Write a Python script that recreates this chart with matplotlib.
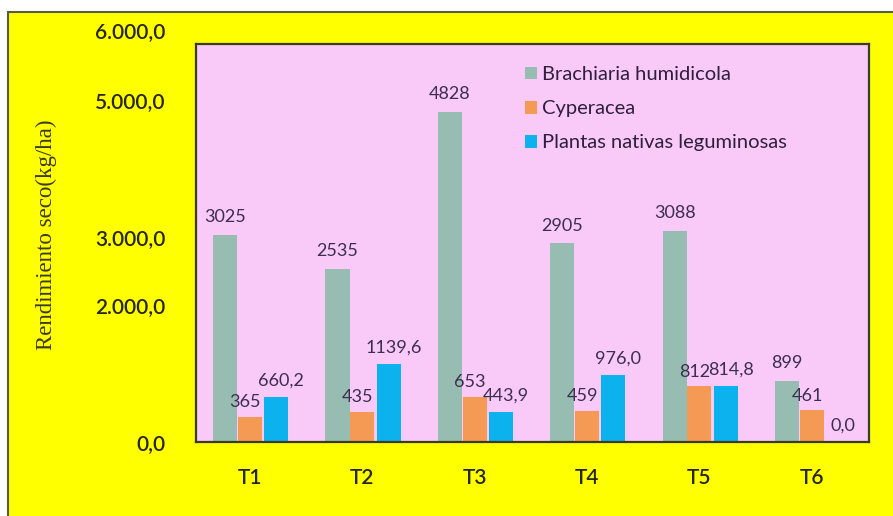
import numpy as np
import matplotlib
matplotlib.use('Agg')
import matplotlib.pyplot as plt
from matplotlib.patches import Rectangle
from matplotlib.ticker import FuncFormatter, FixedLocator

# rendimiento seco por tratamiento
tratamientos = ['T1', 'T2', 'T3', 'T4', 'T5', 'T6']
brachiaria = [3025, 2535, 4828, 2905, 3088, 899]
cyperacea = [365, 435, 653, 459, 812, 461]
leguminosas = [660.2, 1139.6, 443.9, 976.0, 814.8, 0.0]
series_names = ['Brachiaria humidicola', 'Cyperacea', 'Plantas nativas leguminosas']
yticks = [0, 2000, 3000, 5000]

colores = ['#97BCB2', '#F59A55', '#0BB2EE']
label_col = '#3C2E4F'
dark = '#262612'

plt.rcParams['font.family'] = ['Lato', 'DejaVu Sans']

fig = plt.figure(figsize=(8.93, 5.16), dpi=100, facecolor='white')
# marco amarillo de fondo
fondo = Rectangle((8 / 893, -0.1), 1.2, 1 - 12 / 516 + 0.1,
                  transform=fig.transFigure, facecolor='#FFFF00',
                  edgecolor='#5A5A40', linewidth=1.5, zorder=-1)
fig.add_artist(fondo)

ax = fig.add_axes([196 / 893, 1 - 442 / 516, (869 - 196) / 893, (442 - 44) / 516])
ax.set_zorder(2)
ax.set_facecolor('#F9C9F8')

x = np.arange(len(tratamientos))
w = 0.215
b1 = ax.bar(x - 0.22, brachiaria, w, color=colores[0], label=series_names[0])
b2 = ax.bar(x, cyperacea, w, color=colores[1], label=series_names[1])
b3 = ax.bar(x + 0.235, leguminosas, w, color=colores[2], label=series_names[2])

for i in range(len(x)):
    ax.annotate(str(brachiaria[i]), (x[i] - 0.22, brachiaria[i]), xytext=(0, 7),
                textcoords='offset points', ha='center', va='bottom', fontsize=13, color=label_col)
    ax.annotate(str(cyperacea[i]), (x[i] - 0.04, cyperacea[i]), xytext=(0, 5),
                textcoords='offset points', ha='center', va='bottom', fontsize=13, color=label_col)
    ax.annotate(f'{leguminosas[i]:.1f}'.replace('.', ','), (x[i] + 0.28, leguminosas[i]), xytext=(0, 6),
                textcoords='offset points', ha='center', va='bottom', fontsize=13, color=label_col)

ax.set_xlim(-0.48, 5.51)
ax.set_ylim(0, 5820)
ax.set_xticks(x)
ax.set_xticklabels(tratamientos)
ax.yaxis.set_major_locator(FixedLocator(yticks))
fmt = lambda v, p: f'{v:,.1f}'.replace(',', 'X').replace('.', ',').replace('X', '.')
ax.yaxis.set_major_formatter(FuncFormatter(fmt))
ax.tick_params(axis='both', length=0, labelsize=15, labelcolor=dark)
ax.tick_params(axis='y', pad=22)
ax.tick_params(axis='x', pad=19)
for t in ax.get_xticklabels() + ax.get_yticklabels():
    t.set_fontweight('semibold')
# etiqueta 6.000,0 queda fuera del area
ax.text(-0.046, 6000, fmt(6000, None), transform=ax.get_yaxis_transform(), ha='right',
        va='center', fontsize=15, color=dark, fontweight='semibold', clip_on=False)

for s in ax.spines.values():
    s.set_color('#3A3A22')
    s.set_linewidth(1.6)

ax.set_ylabel('Rendimiento seco(kg/ha)', family='Liberation Serif', fontsize=16.5, color='#3A3A1E')
ax.yaxis.set_label_coords(-0.206, 0.52)

ax.legend(loc='upper left', bbox_to_anchor=(0.462, 0.99), frameon=False, fontsize=14.5,
          handlelength=0.6, handleheight=0.6, handletextpad=0.25, labelspacing=0.85,
          labelcolor='#2E1F3E')

plt.savefig('out.png', dpi=100, facecolor=fig.get_facecolor())
